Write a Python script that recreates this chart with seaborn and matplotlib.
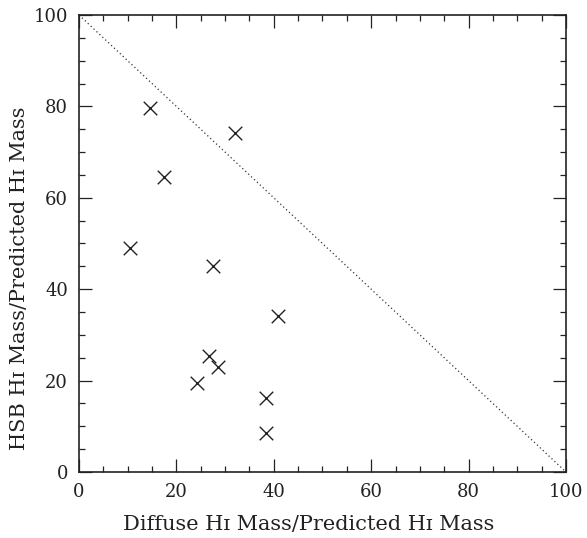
import matplotlib
matplotlib.use('Agg')
import matplotlib.pyplot as plt
from matplotlib.ticker import MultipleLocator
import seaborn as sns
import pandas as pd

# diffuse / HSB fractions of predicted HI mass (percent)
diffuse_frac = [14.6, 32.0, 17.5, 10.5, 27.6, 40.9, 26.7, 28.6, 24.2, 38.5, 38.5]
hsb_frac = [79.6, 74.2, 64.6, 49.0, 45.1, 34.1, 25.3, 23.0, 19.5, 16.3, 8.6]
line_x = [0, 100]
line_y = [100, 0]

df = pd.DataFrame({'diffuse': diffuse_frac, 'hsb': hsb_frac})

sns.set_style('ticks')
plt.rcParams['font.family'] = ['DejaVu Serif', 'DejaVu Sans']

fig = plt.figure(figsize=(5.87, 5.38), dpi=100)
ax = fig.add_axes([0.1346, 0.1227, 0.8296, 0.8494])

ax.plot(line_x, line_y, color='#333333', linestyle=(0, (1, 2.2)), linewidth=0.9)
sns.scatterplot(data=df, x='diffuse', y='hsb', marker='x', s=95,
                color='#222222', linewidth=1.0, ax=ax)

ax.set_xlim(0, 100)
ax.set_ylim(0, 100)
ax.xaxis.set_major_locator(MultipleLocator(20))
ax.xaxis.set_minor_locator(MultipleLocator(5))
ax.yaxis.set_major_locator(MultipleLocator(20))
ax.yaxis.set_minor_locator(MultipleLocator(5))
ax.tick_params(which='both', direction='in', top=True, right=True,
               labelsize=13, colors='#222222', pad=8)
ax.tick_params(which='major', length=9.5, width=0.9)
ax.tick_params(which='minor', length=4.5, width=0.9)
for sp in ax.spines.values():
    sp.set_linewidth(1.2)
    sp.set_color('#222222')

ax.set_xlabel('')
ax.set_ylabel('')
fig.text(0.526, 0.026, 'Diffuse H\u026a Mass/Predicted H\u026a Mass',
         fontsize=15, color='#222222', ha='center', va='center')
fig.text(0.034, 0.483, 'HSB H\u026a Mass/Predicted H\u026a Mass',
         fontsize=15, color='#222222', ha='center', va='center', rotation=90)

fig.savefig('out.png', dpi=100)
